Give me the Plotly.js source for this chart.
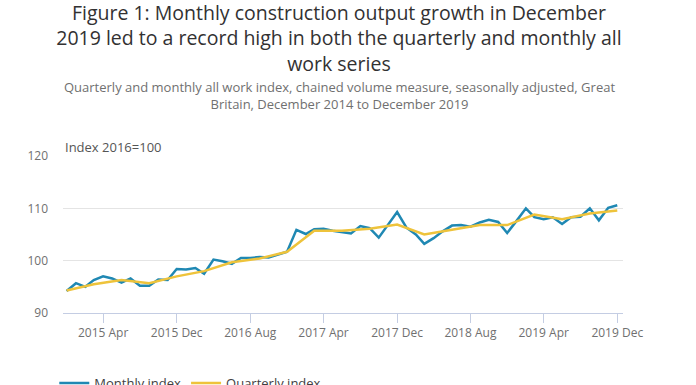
<!DOCTYPE html>
<html>
<head>
<meta charset="utf-8">
<script src="https://cdn.plot.ly/plotly-3.0.1.min.js"></script>
<style>
html,body{margin:0;padding:0;background:#fff;}
#chart{width:696px;height:385px;}
</style>
</head>
<body>
<div id="chart"></div>
<script>
// Monthly dates: December 2014 to December 2019
const monthlyDates = [
  "2014-12-01",
  "2015-01-01","2015-02-01","2015-03-01","2015-04-01","2015-05-01","2015-06-01",
  "2015-07-01","2015-08-01","2015-09-01","2015-10-01","2015-11-01","2015-12-01",
  "2016-01-01","2016-02-01","2016-03-01","2016-04-01","2016-05-01","2016-06-01",
  "2016-07-01","2016-08-01","2016-09-01","2016-10-01","2016-11-01","2016-12-01",
  "2017-01-01","2017-02-01","2017-03-01","2017-04-01","2017-05-01","2017-06-01",
  "2017-07-01","2017-08-01","2017-09-01","2017-10-01","2017-11-01","2017-12-01",
  "2018-01-01","2018-02-01","2018-03-01","2018-04-01","2018-05-01","2018-06-01",
  "2018-07-01","2018-08-01","2018-09-01","2018-10-01","2018-11-01","2018-12-01",
  "2019-01-01","2019-02-01","2019-03-01","2019-04-01","2019-05-01","2019-06-01",
  "2019-07-01","2019-08-01","2019-09-01","2019-10-01","2019-11-01","2019-12-01"
];
const monthlyIndex = [
  94.2,
  95.7, 95.0, 96.3, 97.0, 96.6, 95.8,
  96.6, 95.2, 95.2, 96.4, 96.3, 98.4,
  98.3, 98.6, 97.5, 100.2, 99.9, 99.4,
  100.5, 100.5, 100.7, 100.6, 101.2, 101.7,
  105.9, 105.1, 106.0, 106.1, 105.7, 105.5,
  105.2, 106.6, 106.2, 104.4, 106.8, 109.3,
  106.3, 105.0, 103.2, 104.3, 105.6, 106.7,
  106.8, 106.5, 107.3, 107.8, 107.4, 105.3,
  107.6, 110.0, 108.3, 107.9, 108.3, 107.0,
  108.3, 108.4, 110.0, 107.7, 110.1, 110.6
];
// Quarterly index plotted at the last month of each quarter
const quarterlyDates = [
  "2014-12-01","2015-03-01","2015-06-01","2015-09-01","2015-12-01",
  "2016-03-01","2016-06-01","2016-09-01","2016-12-01",
  "2017-03-01","2017-06-01","2017-09-01","2017-12-01",
  "2018-03-01","2018-06-01","2018-09-01","2018-12-01",
  "2019-03-01","2019-06-01","2019-09-01","2019-12-01"
];
const quarterlyIndex = [
  94.3, 95.5, 96.3, 95.7, 97.0,
  98.0, 99.7, 100.4, 101.7,
  105.7, 105.7, 106.1, 106.9,
  105.0, 105.9, 106.8, 106.8,
  108.8, 107.9, 109.0, 109.6
];
const seriesNames = ["Monthly index", "Quarterly index"];
const xTickVals = ["2015-04-01","2015-12-01","2016-08-01","2017-04-01","2017-12-01","2018-08-01","2019-04-01","2019-12-01"];
const yTickVals = [90, 100, 110, 120];

const titleText = "Figure 1: Monthly construction output growth in December<br>2019 led to a record high in both the quarterly and monthly all<br>work series";
const subtitleText = "Quarterly and monthly all work index, chained volume measure, seasonally adjusted, Great<br>Britain, December 2014 to December 2019";
const unitText = "Index 2016=100";

const FONT = "'Open Sans', 'Noto Sans', sans-serif";

const traces = [
  {
    x: monthlyDates, y: monthlyIndex, name: seriesNames[0],
    type: "scatter", mode: "lines",
    line: {color: "#1f88b3", width: 2.5},
    hoverinfo: "skip"
  },
  {
    x: quarterlyDates, y: quarterlyIndex, name: seriesNames[1],
    type: "scatter", mode: "lines",
    line: {color: "#eec33b", width: 2.5},
    hoverinfo: "skip"
  }
];

const layout = {
  width: 696, height: 385,
  margin: {l: 63, r: 73, t: 156, b: 72, pad: 0},
  paper_bgcolor: "#ffffff",
  plot_bgcolor: "#ffffff",
  font: {family: FONT, color: "#707070", size: 12},
  showlegend: true,
  title: {
    text: titleText,
    font: {family: FONT, size: 19.5, color: "#323132"},
    xref: "container", x: 0.487, xanchor: "center",
    yref: "container", y: 0.948, yanchor: "top"
  },
  annotations: [
    {
      text: subtitleText, xref: "paper", yref: "paper",
      x: 0.493, y: 1.512, xanchor: "center", yanchor: "top",
      showarrow: false, align: "center",
      font: {family: FONT, size: 13, color: "#707070"}
    },
    {
      text: unitText, xref: "paper", yref: "paper",
      x: 0, y: 0.987, xanchor: "left", yanchor: "bottom",
      showarrow: false, align: "left",
      font: {family: FONT, size: 13, color: "#555555"}
    }
  ],
  xaxis: {
    type: "date",
    range: ["2014-11-19", "2019-12-20"],
    tickmode: "array",
    tickvals: xTickVals,
    tickformat: "%Y %b",
    ticks: "outside", ticklen: 9, tickwidth: 1, tickcolor: "#c4cde3",
    showline: true, linecolor: "#c4cde3", linewidth: 1,
    showgrid: false, zeroline: false,
    tickfont: {family: FONT, size: 12, color: "#707070"},
    fixedrange: true
  },
  yaxis: {
    range: [90, 120],
    tickmode: "array",
    tickvals: yTickVals,
    showgrid: true, gridcolor: "#e4e4e4", gridwidth: 1,
    zeroline: false, showline: false, ticks: "",
    ticklabelstandoff: 14,
    tickfont: {family: FONT, size: 12, color: "#707070"},
    fixedrange: true
  },
  legend: {
    orientation: "h",
    xref: "container", yref: "container",
    x: 0.078, xanchor: "left",
    y: 0.044, yanchor: "top",
    font: {family: FONT, size: 13, color: "#414042"},
    itemwidth: 30,
    bgcolor: "rgba(0,0,0,0)"
  }
};

Plotly.newPlot("chart", traces, layout, {displayModeBar: false, staticPlot: true});
</script>
</body>
</html>
